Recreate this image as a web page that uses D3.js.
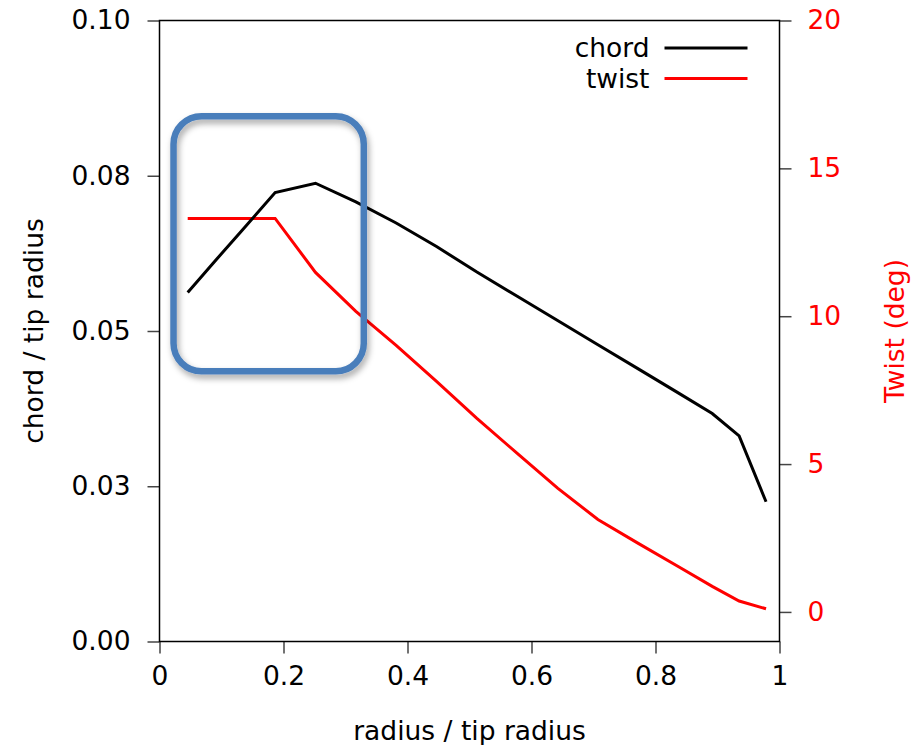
<!DOCTYPE html>
<html>
<head>
<meta charset="utf-8">
<script src="https://cdn.jsdelivr.net/npm/d3@7"></script>
<style>
  body { margin: 0; background: #fff; }
  text { font-family: "DejaVu Sans", sans-serif; }
</style>
</head>
<body>
<div class="bladeChart"></div>
<script>
// blade stations (r / R) and section properties
var radius = [0.0455, 0.0889, 0.1323, 0.1865, 0.2516, 0.3167, 0.3817, 0.4468, 0.5119,
              0.5770, 0.6421, 0.7071, 0.7722, 0.8373, 0.8915, 0.9349, 0.9783];
var chord = [0.0562, 0.0612, 0.0661, 0.0723, 0.0738, 0.0708, 0.0674, 0.0636, 0.0595,
             0.0556, 0.0517, 0.0478, 0.0439, 0.0400, 0.0367, 0.0331, 0.0225];
var twist = [13.308, 13.308, 13.308, 13.308, 11.480, 10.162, 9.011, 7.795, 6.544,
             5.361, 4.188, 3.125, 2.319, 1.526, 0.863, 0.370, 0.106];

var xTicks = [0, 0.2, 0.4, 0.6, 0.8, 1];
var xTickLabels = ["0", "0.2", "0.4", "0.6", "0.8", "1"];
var chordTicks = [0, 0.025, 0.05, 0.075, 0.1];
var chordTickLabels = ["0.00", "0.03", "0.05", "0.08", "0.10"];
var twistTicks = [0, 5, 10, 15, 20];
var twistTickLabels = ["0", "5", "10", "15", "20"];
var legendNames = ["chord", "twist"];
var legendColors = ["#000000", "#ff0000"];

var width = 914,
    height = 745,
    margin = { top: 20.5, left: 159.5, right: 134.5, bottom: 103.5 },
    innerW = width - margin.left - margin.right,
    innerH = height - margin.top - margin.bottom,
    fontSize = 26.5;

var svg = d3.select(".bladeChart").append("svg")
    .attr("width", width)
    .attr("height", height);

var defs = svg.append("defs");
var shadow = defs.append("filter")
    .attr("id", "boxShadow")
    .attr("x", "-20%").attr("y", "-20%")
    .attr("width", "140%").attr("height", "140%");
shadow.append("feDropShadow")
    .attr("dx", 2).attr("dy", 4)
    .attr("stdDeviation", 3)
    .attr("flood-color", "#000")
    .attr("flood-opacity", 0.35);

var g = svg.append("g")
    .attr("transform", "translate(" + margin.left + "," + margin.top + ")");

var x = d3.scaleLinear().domain([0, 1]).range([0, innerW]);
var yChord = d3.scaleLinear().domain([0, 0.1]).range([innerH, 0]);
var yTwist = d3.scaleLinear().domain([-1, 20]).range([innerH, 0]);

// axes
function styleAxis(sel, color) {
  sel.select(".domain").remove();
  sel.selectAll(".tick line").attr("stroke", "#444").attr("stroke-width", 1.5);
  sel.selectAll(".tick text")
    .attr("fill", color)
    .style("font-size", fontSize + "px");
}

g.append("g")
  .attr("transform", "translate(0," + innerH + ")")
  .call(d3.axisBottom(x).tickValues(xTicks).tickSize(12).tickPadding(13)
    .tickFormat(function(d, i) { return xTickLabels[i]; }))
  .call(function(s) { styleAxis(s, "#000"); });

g.append("g")
  .call(d3.axisLeft(yChord).tickValues(chordTicks).tickSize(12).tickPadding(17)
    .tickFormat(function(d, i) { return chordTickLabels[i]; }))
  .call(function(s) { styleAxis(s, "#000"); });

g.append("g")
  .attr("transform", "translate(" + innerW + ",0)")
  .call(d3.axisRight(yTwist).tickValues(twistTicks).tickSize(12).tickPadding(16)
    .tickFormat(function(d, i) { return twistTickLabels[i]; }))
  .call(function(s) { styleAxis(s, "#ff0000"); });

// frame
g.append("rect")
  .attr("width", innerW)
  .attr("height", innerH)
  .attr("fill", "none")
  .attr("stroke", "#000")
  .attr("stroke-width", 1.5);

// lines
var chordLine = d3.line()
  .x(function(d, i) { return x(radius[i]); })
  .y(function(d) { return yChord(d); });
var twistLine = d3.line()
  .x(function(d, i) { return x(radius[i]); })
  .y(function(d) { return yTwist(d); });

g.append("path")
  .datum(twist)
  .attr("d", twistLine)
  .attr("fill", "none")
  .attr("stroke", "#ff0000")
  .attr("stroke-width", 3);

g.append("path")
  .datum(chord)
  .attr("d", chordLine)
  .attr("fill", "none")
  .attr("stroke", "#000")
  .attr("stroke-width", 3);

// highlight box around the root region
g.append("rect")
  .attr("x", x(0.0226))
  .attr("y", yChord(0.0846))
  .attr("width", x(0.3295) - x(0.0226))
  .attr("height", yChord(0.0435) - yChord(0.0846))
  .attr("rx", 28).attr("ry", 28)
  .attr("fill", "none")
  .attr("stroke", "#4a7ebb")
  .attr("stroke-width", 6.5)
  .attr("filter", "url(#boxShadow)");

// legend
var legend = g.selectAll(".legend")
  .data(legendNames)
  .enter().append("g")
  .attr("class", "legend")
  .attr("transform", function(d, i) { return "translate(0," + (27.5 + i * 30.5) + ")"; });

legend.append("line")
  .attr("x1", 505).attr("x2", 588)
  .attr("stroke", function(d, i) { return legendColors[i]; })
  .attr("stroke-width", 3);

legend.append("text")
  .attr("x", 490)
  .attr("dy", "0.35em")
  .style("text-anchor", "end")
  .style("font-size", fontSize + "px")
  .text(function(d) { return d; });

// axis titles
g.append("text")
  .attr("x", innerW / 2)
  .attr("y", innerH + 98)
  .style("text-anchor", "middle")
  .style("font-size", fontSize + "px")
  .text("radius / tip radius");

g.append("text")
  .attr("transform", "translate(" + (-117) + "," + (innerH / 2) + ") rotate(-90)")
  .style("text-anchor", "middle")
  .style("font-size", fontSize + "px")
  .text("chord / tip radius");

g.append("text")
  .attr("transform", "translate(" + (innerW + 124) + "," + (innerH / 2) + ") rotate(-90)")
  .style("text-anchor", "middle")
  .style("font-size", fontSize + "px")
  .attr("fill", "#ff0000")
  .text("Twist (deg)");
</script>
</body>
</html>
